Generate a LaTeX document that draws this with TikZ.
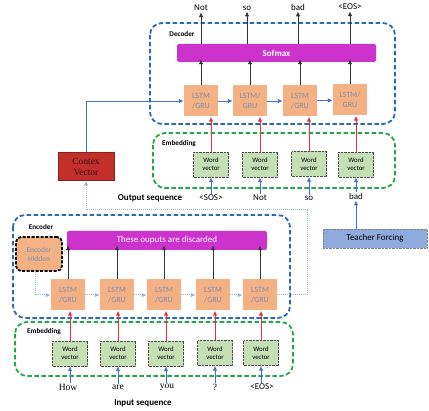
\documentclass[tikz,border=0pt]{standalone}
\usepackage{fontspec}
\setmainfont{Carlito}
\newfontfamily\timesfont{Liberation Serif}
\usepackage{tikz}
\usetikzlibrary{arrows.meta}
\definecolor{lstmorange}{HTML}{F4B183}
\definecolor{lstmtext}{HTML}{7F8FB0}
\definecolor{wvgreen}{HTML}{C5E0B4}
\definecolor{barmag}{HTML}{CC33CC}
\definecolor{boxblue}{HTML}{2A6AB0}
\definecolor{boxgreen}{HTML}{22A84A}
\definecolor{ctxred}{HTML}{C2302B}
\definecolor{ctxtext}{HTML}{3B0A0A}
\definecolor{tfblue}{HTML}{8FAADC}
\definecolor{arrred}{HTML}{E8303A}
\definecolor{arrblue}{HTML}{4472C4}
\definecolor{dotblue}{HTML}{9DB3D9}

\begin{document}
\begin{tikzpicture}[x=1pt,y=-1pt,>={Latex[length=5pt,width=4.5pt]},
    lstm/.style={fill=lstmorange,text=lstmtext,minimum width=34pt,minimum height=31pt,inner sep=0pt,align=center,font=\fontsize{8}{9.5}\selectfont},
    wvec/.style={fill=wvgreen,draw=black!70,densely dotted,minimum width=35pt,minimum height=25pt,inner sep=0pt,align=center,font=\fontsize{6.8}{8.2}\selectfont},
    bar/.style={fill=barmag,text=white,rounded corners=2pt,inner sep=0pt,font=\fontsize{9}{11}\selectfont},
    bluebox/.style={draw=boxblue,line width=1.8pt,dash pattern=on 4.5pt off 2.5pt,rounded corners=12pt},
    greenbox/.style={draw=boxgreen,line width=1.8pt,dash pattern=on 4.5pt off 2.5pt,rounded corners=12pt},
    lbl/.style={inner sep=0pt,font=\bfseries\fontsize{7.2}{8.5}\selectfont},
    word/.style={inner sep=1pt,font=\fontsize{9}{11}\selectfont},
    redarr/.style={->,draw=arrred,line width=0.9pt},
    bluearr/.style={->,draw=arrblue,line width=0.9pt},
    blackarr/.style={->,draw=black!80,line width=1pt},
    dotline/.style={draw=dotblue,line width=1pt,densely dotted}]
    \useasboundingbox (0,0) rectangle (429,411);
    % decoder
    \draw [bluebox] (150,23) rectangle (395,124);
    \node [lbl] (dech) at (182,34) {Decoder};
    \node [bar,minimum width=199pt,minimum height=18pt] (sof) at (276.5,53) {\bfseries Sofmax};
    \node [lstm] (d1) at (201,101) {LSTM\\/GRU};
    \node [lstm] (d2) at (250,101) {LSTM/\\GRU};
    \node [lstm] (d3) at (300,101) {LSTM\\/GRU};
    \node [lstm] (d4) at (350,100) {LSTM/\\GRU};
    \node [word] (on1) at (201,8) {Not};
    \node [word] (on2) at (247,8) {so};
    \node [word] (on3) at (298,7) {bad};
    \node [word] (on4) at (350,7) {<EOS>};
    \draw [blackarr] (d1.north) -- ([yshift=3pt]d1.north |- sof.south);
    \draw [blackarr] (d2.north) -- ([yshift=3pt]d2.north |- sof.south);
    \draw [blackarr] (d3.north) -- ([yshift=3pt]d3.north |- sof.south);
    \draw [blackarr] (d4.north) -- ([yshift=3pt]d4.north |- sof.south);
    \draw [blackarr] (on1.south |- sof.north) -- (on1.south);
    \draw [blackarr] (on2.south |- sof.north) -- (on2.south);
    \draw [blackarr] (on3.south |- sof.north) -- (on3.south);
    \draw [blackarr] (on4.south |- sof.north) -- (on4.south);
    \draw [bluearr] (d1) -- (d2);
    \draw [bluearr] (d2) -- (d3);
    \draw [bluearr] (d3) -- (d4);
    % decoder embedding
    \draw [greenbox] (153,133) rectangle (395,188);
    \node [lbl] (demb) at (179,144) {Embedding};
    \node [wvec] (w1) at (211,164.5) {Word\\vector};
    \node [wvec] (w2) at (260,164.5) {Word\\vector};
    \node [wvec] (w3) at (309,164) {Word\\vector};
    \node [wvec] (w4) at (356,164.5) {Word\\vector};
    \draw [redarr] (w1.north) -- (w1.north |- d1.south);
    \draw [redarr] (w2.north) -- (w2.north |- d2.south);
    \draw [redarr] (w3.north) -- (w3.north |- d3.south);
    \draw [redarr] (w4.north) -- (w4.north |- d4.south);
    \node [word] (i1) at (211,198) {<SOS>};
    \node [word] (i2) at (260,198) {Not};
    \node [word] (i3) at (309,198) {so};
    \node [word] (i4) at (356,196) {bad};
    \draw [bluearr] (i1) -- (w1);
    \draw [bluearr] (i2) -- (w2);
    \draw [bluearr] (i3) -- (w3);
    \draw [bluearr] (i4) -- (w4);
    \node [inner sep=0pt,font=\bfseries\fontsize{9}{11}\selectfont] (oseq) at (150,198) {Output sequence};
    % context vector and teacher forcing
    \node [fill=ctxred,draw=ctxred!70!black,text=ctxtext,minimum width=56pt,minimum height=28pt,inner sep=0pt,align=center,font=\timesfont\fontsize{9.5}{11}\selectfont] (ctx) at (86,166.5) {Contex\\Vector};
    \draw [bluearr] (ctx.north) |- (d1.west);
    \node [fill=tfblue,draw=black!50,densely dotted,minimum width=104pt,minimum height=19pt,inner sep=0pt,font=\fontsize{9}{11}\selectfont] (tf) at (375,238.5) {Teacher Forcing};
    \draw [bluearr] (i4 |- tf.north) -- (i4.south);
    % encoder
    \draw [bluebox] (13,215) rectangle (290,318);
    \node [lbl] (ench) at (41,227) {Encoder};
    \node [fill=lstmorange,text=lstmtext,draw=black,line width=1.8pt,dash pattern=on 3pt off 1.5pt,rounded corners=5pt,minimum width=46pt,minimum height=34pt,inner sep=0pt,align=center,font=\fontsize{7.5}{9}\selectfont] (eh) at (39,254) {Encoder\\Hidden};
    \node [bar,minimum width=200pt,minimum height=19pt] (disc) at (167,240.5) {These ouputs are discarded};
    \node [lstm] (e1) at (68,295) {LSTM\\/GRU};
    \node [lstm] (e2) at (117,295) {LSTM\\/GRU};
    \node [lstm] (e3) at (164,295) {LSTM\\/GRU};
    \node [lstm] (e4) at (213,295) {LSTM\\/GRU};
    \node [lstm] (e5) at (260,295) {LSTM\\/GRU};
    \draw [blackarr] (e1.north) -- ([yshift=5pt]e1.north |- disc.south);
    \draw [blackarr] (e2.north) -- ([yshift=5pt]e2.north |- disc.south);
    \draw [blackarr] (e3.north) -- ([yshift=5pt]e3.north |- disc.south);
    \draw [blackarr] (e4.north) -- ([yshift=5pt]e4.north |- disc.south);
    \draw [blackarr] (e5.north) -- ([yshift=5pt]e5.north |- disc.south);
    \draw [dotline,->] ([xshift=-4pt]eh.south) |- (e1.west);
    \draw [dotline,->] (e1) -- (e2);
    \draw [dotline,->] (e2) -- (e3);
    \draw [dotline,->] (e3) -- (e4);
    \draw [dotline,->] (e4) -- (e5);
    \coordinate (c1) at (307,210);
    \draw [dotline,->] (e5.east) -| (c1) -| (ctx.south);
    % encoder embedding
    \draw [greenbox] (15,322) rectangle (293,376);
    \node [lbl] (eemb) at (44,332) {Embedding};
    \node [wvec] (v1) at (70,353.5) {Word\\vector};
    \node [wvec] (v2) at (118,353.5) {Word\\vector};
    \node [wvec] (v3) at (166,353.5) {Word\\vector};
    \node [wvec] (v4) at (215,353) {Word\\vector};
    \node [wvec] (v5) at (261,353) {Word\\vector};
    \draw [redarr] (v1.north) -- (v1.north |- e1.south);
    \draw [redarr] (v2.north) -- (v2.north |- e2.south);
    \draw [redarr] (v3.north) -- (v3.north |- e3.south);
    \draw [redarr] (v4.north) -- (v4.north |- e4.south);
    \draw [redarr] (v5.north) -- (v5.north |- e5.south);
    \node [word,font=\timesfont\fontsize{9.5}{11}\selectfont] (x1) at (68,387) {How};
    \node [word,font=\timesfont\fontsize{9.5}{11}\selectfont] (x2) at (118,387) {are};
    \node [word,font=\timesfont\fontsize{9.5}{11}\selectfont] (x3) at (167,387) {you};
    \node [word,font=\timesfont\fontsize{9.5}{11}\selectfont] (x4) at (215,387) {?};
    \node [word] (x5) at (262,387) {<EOS>};
    \draw [bluearr] (x1.north -| v1) -- (v1.south);
    \draw [bluearr] (x2.north -| v2) -- (v2.south);
    \draw [bluearr] (x3.north -| v3) -- (v3.south);
    \draw [bluearr] (x4.north -| v4) -- (v4.south);
    \draw [bluearr] (x5.north -| v5) -- (v5.south);
    \node [inner sep=0pt,font=\bfseries\fontsize{9}{11}\selectfont] (iseq) at (143,403) {Input sequence};
\end{tikzpicture}
\end{document}
